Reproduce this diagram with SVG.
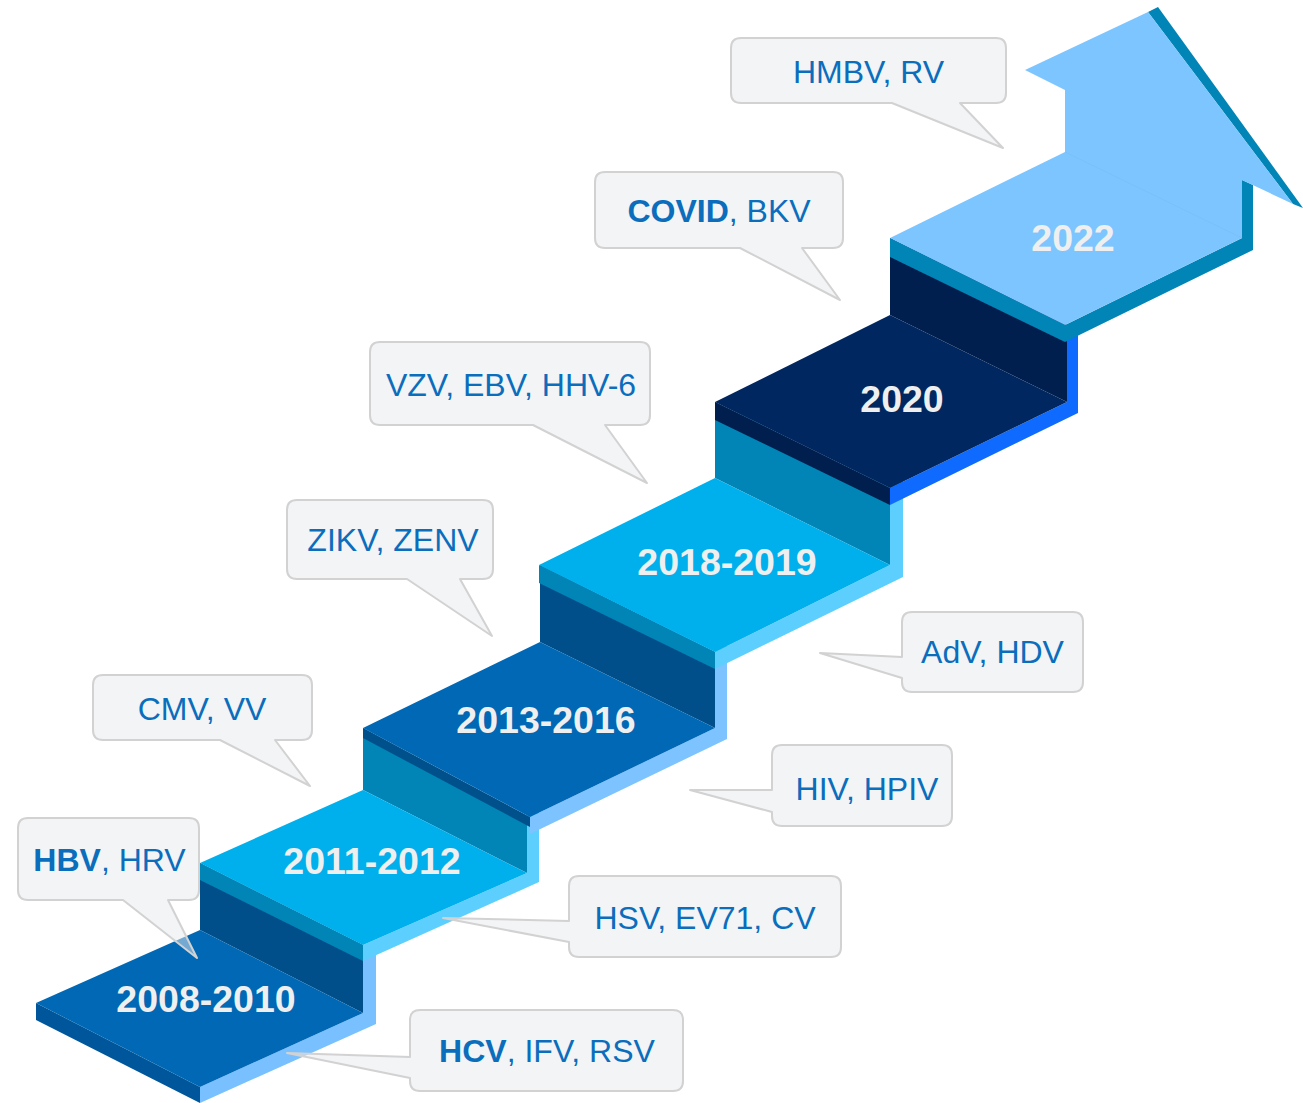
<svg xmlns="http://www.w3.org/2000/svg" width="1303" height="1103" viewBox="0 0 1303 1103">
<defs>
<style>
.lbl{font-family:"Liberation Sans",Arial,sans-serif;font-weight:bold;font-size:37.5px;fill:#efefef;text-anchor:middle}
.ct{font-family:"Liberation Sans",Arial,sans-serif;font-size:32px;fill:#0a6ebd;text-anchor:middle}
.ct tspan.b{font-weight:bold}
.bubble{fill:#e8eaed;fill-opacity:0.5;stroke:#d2d2d2;stroke-width:2;stroke-linejoin:round}
</style>
</defs>
<rect x="0" y="0" width="1303" height="1103" fill="#ffffff"/>

<g id="step-2008-2010">
<polygon points="200,930 363,1013 363,945 200,863" fill="#004f8a"/>
<polygon points="200,1087 363,1013 363,955 376,949 376,1024 200,1103" fill="#78c0ff"/>
<polygon points="36,1003 200,1087 200,1103 36,1020" fill="#00569b"/>
<polygon points="36,1003 200,930 363,1013 200,1087" fill="#0068b4"/>
<text class="lbl" x="206" y="1012">2008-2010</text>
</g>

<g id="step-2011-2012">
<polygon points="363,790 527,873 527,817 363,728" fill="#0085b6"/>
<polygon points="363,945 527,873 527,812 539,806 539,882 363,961" fill="#5ccfff"/>
<polygon points="200,863 363,945 363,961 200,880" fill="#0085b6"/>
<polygon points="200,863 363,790 527,873 363,945" fill="#00b0ec"/>
<text class="lbl" x="372" y="874">2011-2012</text>
</g>

<g id="step-2013-2016">
<polygon points="540,642 715,728 715,652 540,565" fill="#004f8a"/>
<polygon points="530,817 715,728 715,650 727,644 727,739 530,834" fill="#7dc3ff"/>
<polygon points="363,728 530,817 530,827 363,738" fill="#00508c"/>
<polygon points="363,728 540,642 715,728 530,817" fill="#0068b4"/>
<text class="lbl" x="546" y="733">2013-2016</text>
</g>

<g id="step-2018-2019">
<polygon points="715,478 890,565 890,488 715,402" fill="#0085b6"/>
<polygon points="715,652 890,565 890,485 903,479 903,577 715,669" fill="#5ccfff"/>
<polygon points="539,565 715,652 715,669 539,583" fill="#0085b6"/>
<polygon points="539,565 715,478 890,565 715,652" fill="#00b0ec"/>
<text class="lbl" x="727" y="575">2018-2019</text>
</g>

<g id="step-2020">
<polygon points="890,315 1067,402 1067,325 890,238" fill="#001f4e"/>
<polygon points="890,488 1067,402 1067,330 1078,325 1078,413 890,505" fill="#0f6bff"/>
<polygon points="715,402 890,488 890,505 715,420" fill="#001f4e"/>
<polygon points="715,402 890,315 1067,402 890,488" fill="#00275f"/>
<text class="lbl" x="902" y="412">2020</text>
</g>

<g id="step-2022">
<polygon points="1065,325 1242,238 1242,180 1253,185 1253,250 1065,342" fill="#0085b6"/>
<polygon points="1148,12 1158,7 1303,208 1293,204" fill="#0085b6"/>
<polygon points="890,238 1065,325 1065,342 890,257" fill="#0085b6"/>
<polygon points="890,238 1065,152 1065,90 1025,70 1148,12 1293,204 1242,180 1242,238 1065,325" fill="#7dc5ff"/>
<line x1="1065" y1="152" x2="1242" y2="238" stroke="#6db6ee" stroke-width="1" stroke-opacity="0.35"/>
<text class="lbl" x="1073" y="251">2022</text>
</g>

<g id="callout-hmbv">
<path class="bubble" d="M741,38 H996 Q1006,38 1006,48 V93 Q1006,103 996,103 H960 L1003,148 L892,103 H741 Q731,103 731,93 V48 Q731,38 741,38 Z"/>
<text class="ct" x="868.5" y="83">HMBV, RV</text>
</g>

<g id="callout-covid">
<path class="bubble" d="M605,172 H833 Q843,172 843,182 V238 Q843,248 833,248 H802 L840,300 L740,248 H605 Q595,248 595,238 V182 Q595,172 605,172 Z"/>
<text class="ct" x="719" y="222"><tspan class="b">COVID</tspan>, BKV</text>
</g>

<g id="callout-vzv">
<path class="bubble" d="M380,342 H640 Q650,342 650,352 V415 Q650,425 640,425 H605 L647,483 L533,425 H380 Q370,425 370,415 V352 Q370,342 380,342 Z"/>
<text class="ct" x="511" y="396">VZV, EBV, HHV-6</text>
</g>

<g id="callout-zikv">
<path class="bubble" d="M297,500 H483 Q493,500 493,510 V569 Q493,579 483,579 H460 L492,636 L407,579 H297 Q287,579 287,569 V510 Q287,500 297,500 Z"/>
<text class="ct" x="393" y="551">ZIKV, ZENV</text>
</g>

<g id="callout-cmv">
<path class="bubble" d="M103,675 H302 Q312,675 312,685 V730 Q312,740 302,740 H275 L310,786 L220,740 H103 Q93,740 93,730 V685 Q93,675 103,675 Z"/>
<text class="ct" x="202" y="720">CMV, VV</text>
</g>

<g id="callout-hbv">
<path class="bubble" d="M28,818 H189 Q199,818 199,828 V890 Q199,900 189,900 H168 L197,958 L123,900 H28 Q18,900 18,890 V828 Q18,818 28,818 Z"/>
<text class="ct" x="109.5" y="871"><tspan class="b">HBV</tspan>, HRV</text>
</g>

<g id="callout-adv">
<path class="bubble" d="M912,612 H1073 Q1083,612 1083,622 V682 Q1083,692 1073,692 H912 Q902,692 902,682 V678 L820,653 L902,657 V622 Q902,612 912,612 Z"/>
<text class="ct" x="992.5" y="663">AdV, HDV</text>
</g>

<g id="callout-hiv">
<path class="bubble" d="M782,745 H942 Q952,745 952,755 V816 Q952,826 942,826 H782 Q772,826 772,816 V812 L690,790 L772,790 V755 Q772,745 782,745 Z"/>
<text class="ct" x="867" y="800">HIV, HPIV</text>
</g>

<g id="callout-hsv">
<path class="bubble" d="M579,876 H831 Q841,876 841,886 V947 Q841,957 831,957 H579 Q569,957 569,947 V942 L443,918 L569,921 V886 Q569,876 579,876 Z"/>
<text class="ct" x="705" y="929">HSV, EV71, CV</text>
</g>

<g id="callout-hcv">
<path class="bubble" d="M420,1010 H673 Q683,1010 683,1020 V1081 Q683,1091 673,1091 H420 Q410,1091 410,1081 V1078 L287,1053 L410,1057 V1020 Q410,1010 420,1010 Z"/>
<text class="ct" x="547" y="1062"><tspan class="b">HCV</tspan>, IFV, RSV</text>
</g>
</svg>
